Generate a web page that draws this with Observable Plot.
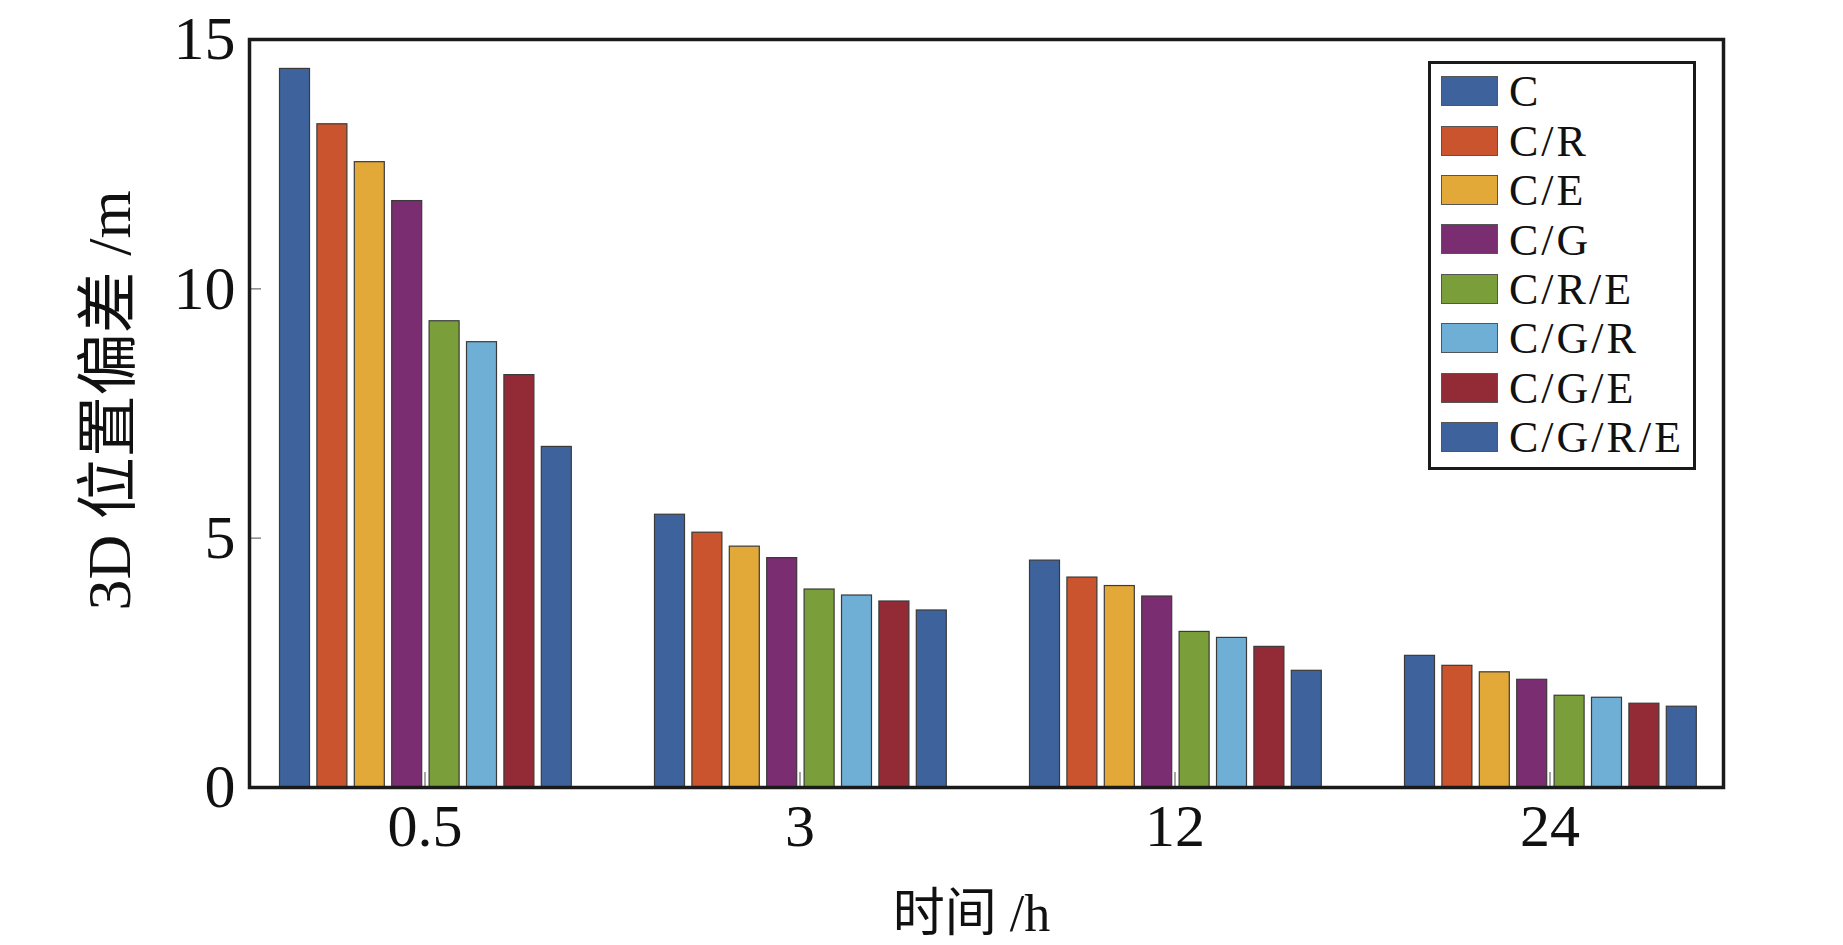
<!DOCTYPE html>
<html>
<head>
<meta charset="utf-8">
<script src="https://cdn.jsdelivr.net/npm/d3@7"></script>
<script src="https://cdn.jsdelivr.net/npm/@observablehq/plot@0.6"></script>
<style>
  html, body { margin: 0; padding: 0; background: #fff; }
  #wrap { position: relative; width: 1843px; height: 945px; overflow: hidden; }
  #legend {
    position: absolute; left: 1428px; top: 61px; width: 268px; height: 409px;
    box-sizing: border-box; border: 3.5px solid #1a1a1a; background: #fff;
    font-family: "Liberation Serif", "Times New Roman", serif; color: #111;
  }
  .row { position: absolute; left: 10px; height: 30px; width: 250px; }
  .sw { position: absolute; left: 0; top: 0; width: 57px; height: 30px; box-sizing: border-box; border: 1.5px solid #555; }
  .lb { position: absolute; left: 68px; top: -3.85px; height: 40px; font-size: 44px; line-height: 40px; letter-spacing: 3px; white-space: nowrap; }
</style>
</head>
<body>
<div id="wrap"></div>
<script>
// ---- data ----
const groups = ["0.5", "3", "12", "24"];
const series = ["C", "C/R", "C/E", "C/G", "C/R/E", "C/G/R", "C/G/E", "C/G/R/E"];
const vC      = [14.41, 5.47, 4.55, 2.64];
const vCR     = [13.30, 5.11, 4.21, 2.44];
const vCE     = [12.54, 4.83, 4.04, 2.31];
const vCG     = [11.76, 4.60, 3.83, 2.16];
const vCRE    = [9.35, 3.97, 3.12, 1.84];
const vCGR    = [8.93, 3.85, 3.00, 1.80];
const vCGE    = [8.27, 3.73, 2.82, 1.68];
const vCGRE   = [6.83, 3.55, 2.34, 1.62];
const yTicks  = [0, 5, 10, 15];
const xLabel  = "时间 /h";
const yLabel  = "3D 位置偏差 /m";

// ---- styles ----
const palette = ["#3e639c", "#c9542d", "#e2a838", "#7a2d71", "#7a9e3a", "#70afd5", "#922b36", "#3e639c"];

const values = [vC, vCR, vCE, vCG, vCRE, vCGR, vCGE, vCGRE];
const data = series.flatMap((s, j) => groups.map((g, i) => ({group: g, series: s, value: values[j][i]})));

const step = 375, lead = 42.5, pitch = 37.4, barW = 30;
const bars = series.map((s, j) => Plot.barY(data.filter(d => d.series === s), {
  x: "group", y: "value", fill: "series",
  stroke: "#3a3a3a", strokeWidth: 1.2,
  insetLeft: lead + pitch * j,
  insetRight: step - lead - pitch * j - barW
}));

const chart = Plot.plot({
  width: 1843, height: 945,
  marginLeft: 249, marginRight: 120, marginTop: 39, marginBottom: 158,
  style: {fontFamily: '"Liberation Serif", "Noto Sans CJK SC", serif', color: "#111", background: "#fff"},
  x: {type: "band", domain: groups, range: [236.5, 1736.5], padding: 0, axis: null},
  y: {domain: [0, 15], axis: null},
  color: {domain: series, range: palette},
  marks: [
    Plot.axisX({tickSize: -15, stroke: "#888", strokeWidth: 1.5, tickFormat: () => "", label: null}),
    Plot.axisY({ticks: [5, 10], tickSize: -12, stroke: "#888", strokeWidth: 1.5, tickFormat: () => "", label: null}),
    ...bars,
    Plot.axisY({ticks: yTicks, tickSize: 0, tickPadding: 14, fontSize: 62, label: null}),
    Plot.axisX({tickSize: 0, tickPadding: 16, fontSize: 60, label: null}),
    Plot.text([yLabel], {frameAnchor: "left", textAnchor: "middle", lineAnchor: "middle", dx: -139, dy: -13, rotate: -90, fontSize: 62}),
    Plot.text([xLabel], {frameAnchor: "bottom", textAnchor: "middle", lineAnchor: "middle", dx: -15, dy: 127, fontSize: 52}),
    Plot.frame({stroke: "#1a1a1a", strokeWidth: 3.5})
  ]
});
const wrap = document.getElementById("wrap");
wrap.appendChild(chart);

// ---- legend ----
const legend = document.createElement("div");
legend.id = "legend";
series.forEach((s, j) => {
  const row = document.createElement("div");
  row.className = "row";
  row.style.top = (12.2 + 49.4 * j) + "px";
  const sw = document.createElement("div");
  sw.className = "sw";
  sw.style.background = palette[j];
  const lb = document.createElement("div");
  lb.className = "lb";
  lb.textContent = s;
  row.appendChild(sw); row.appendChild(lb);
  legend.appendChild(row);
});
wrap.appendChild(legend);
</script>
</body>
</html>
